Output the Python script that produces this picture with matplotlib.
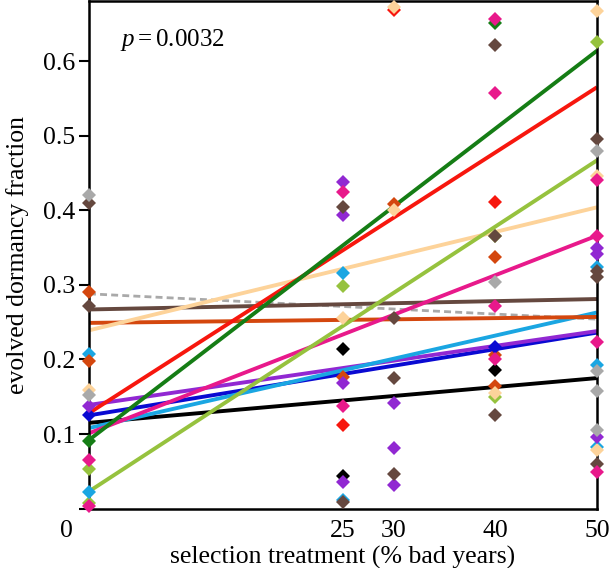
import matplotlib
matplotlib.use("Agg")
import matplotlib.pyplot as plt

plt.rcParams['font.family'] = ['Liberation Serif', 'DejaVu Serif']
plt.rcParams['mathtext.fontset'] = 'custom'
plt.rcParams['mathtext.it'] = 'Liberation Serif:italic'
plt.rcParams['mathtext.rm'] = 'Liberation Serif'

# series colours (line drawing order: back to front)
names = ['black', 'blue', 'purple', 'lightblue', 'gray', 'orangered', 'brown',
         'pink', 'lightorange', 'yellowgreen', 'red', 'green']
colors = ['#000000', '#0a0ad2', '#9128d2', '#1aa6e2', '#a9a9a9', '#d4470e', '#65483f',
          '#e8198b', '#fdd39a', '#96c23e', '#f7170e', '#157d15']
# order in which the run markers are stacked
marker_order = ['green', 'red', 'yellowgreen', 'lightblue', 'orangered', 'lightorange',
                'blue', 'black', 'purple', 'brown', 'gray', 'pink']

# fitted line values at 0 % and 50 % bad years
fit0 = [0.115, 0.125, 0.139, 0.108, 0.288, 0.249, 0.267, 0.101, 0.239, 0.023, 0.128, 0.092]
fit50 = [0.175, 0.236, 0.238, 0.263, 0.254, 0.257, 0.281, 0.366, 0.404, 0.467, 0.565, 0.614]

# evolved dormancy of individual runs (x = % bad years)
pts_x = {
    'black': [25, 25, 40],
    'blue': [0, 40],
    'purple': [0, 25, 25, 25, 25, 30, 30, 30, 50, 50, 50],
    'lightblue': [0, 0, 25, 25, 50, 50, 50],
    'gray': [0, 0, 40, 50, 50, 50, 50],
    'orangered': [0, 0, 25, 30, 40, 40, 40],
    'brown': [0, 0, 25, 25, 30, 30, 30, 40, 40, 40, 50, 50, 50, 50],
    'pink': [0, 0, 25, 25, 40, 40, 40, 40, 50, 50, 50, 50],
    'lightorange': [0, 25, 30, 30, 40, 50, 50, 50],
    'yellowgreen': [0, 0, 25, 40, 40, 50],
    'red': [25, 30, 40],
    'green': [0, 40],
}
pts_y = {
    'black': [0.214, 0.044, 0.186],
    'blue': [0.125, 0.217],
    'purple': [0.138, 0.438, 0.394, 0.169, 0.036, 0.141, 0.081, 0.031, 0.349, 0.342, 0.096],
    'lightblue': [0.207, 0.022, 0.316, 0.012, 0.324, 0.192, 0.083],
    'gray': [0.420, 0.152, 0.304, 0.480, 0.184, 0.158, 0.106],
    'orangered': [0.290, 0.198, 0.177, 0.408, 0.338, 0.206, 0.164],
    'brown': [0.410, 0.271, 0.404, 0.009, 0.256, 0.175, 0.047, 0.621, 0.366, 0.125,
              0.495, 0.318, 0.310, 0.060],
    'pink': [0.065, 0.003, 0.425, 0.138, 0.656, 0.557, 0.272, 0.201, 0.440, 0.365, 0.224, 0.049],
    'lightorange': [0.159, 0.256, 0.672, 0.400, 0.155, 0.667, 0.446, 0.078],
    'yellowgreen': [0.053, 0.007, 0.298, 0.149, 0.366, 0.626],
    'red': [0.112, 0.668, 0.411],
    'green': [0.091, 0.651],
}

xticks = [25, 30, 40, 50]
yticks = [0, 0.1, 0.2, 0.3, 0.4, 0.5, 0.6]
ylabels = ['', '0.1', '0.2', '0.3', '0.4', '0.5', '0.6']

fig = plt.figure(figsize=(6.09, 5.68), dpi=100)
ax = fig.add_axes([0.1461, 0.1046, 0.8342, 0.8928])

for i, n in enumerate(names):
    ls = (0, (2.5, 1.5)) if n == 'gray' else '-'
    lw = 2.0 if n == 'gray' else 2.8
    ax.plot([0, 50], [fit0[i], fit50[i]], color=colors[i], lw=lw, ls=ls, zorder=2,
            solid_capstyle='butt')

for k, n in enumerate(marker_order):
    c = colors[names.index(n)]
    ax.plot(pts_x[n], pts_y[n], 'D', color=c, ms=7, mew=0, zorder=3 + k * 0.01, clip_on=False)

ax.set_xlim(0, 50)
ax.set_ylim(0, 0.68)
ax.set_xticks(xticks)
ax.set_xticklabels([str(t) for t in xticks])
ax.set_yticks(yticks)
ax.set_yticklabels(ylabels)
ax.tick_params(axis='x', length=0, labelsize=18.5, pad=8)
ax.tick_params(axis='y', length=7, width=1.5, direction='out', labelsize=18.5, pad=3)
for s in ax.spines.values():
    s.set_linewidth(1.8)

ax.annotate('0', xy=(0, 0), xycoords='data', xytext=(-16, -8), textcoords='offset points',
            ha='center', va='top', fontsize=18.5, annotation_clip=False)

ax.set_xlabel('selection treatment (% bad years)', fontsize=18.5, labelpad=3)
ax.set_ylabel('evolved dormancy fraction', fontsize=18.5, labelpad=10)
ax.text(0.062, 0.924, r'$p = $0.0032', transform=ax.transAxes, fontsize=18, ha='left', va='center')

fig.savefig('out.png', dpi=100)
